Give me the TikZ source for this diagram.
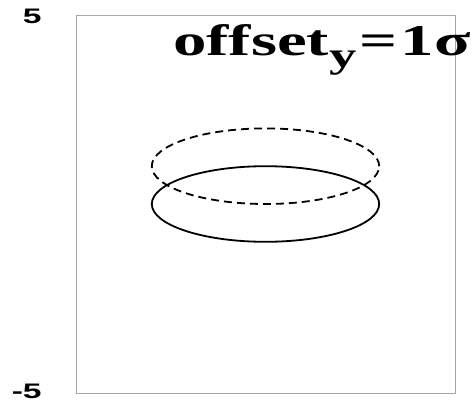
\documentclass[tikz,border=0pt]{standalone}
\usepackage{fontspec}
\setmainfont{Liberation Serif}
\setsansfont{Liberation Sans}
\usepackage{tikz}
\usepackage{xcolor}

\tikzset{
  ticklabel/.style={anchor=east,inner sep=0pt,font=\sffamily\bfseries\fontsize{21}{21}\selectfont},
  curve/.style={line width=1.8pt}
}

\begin{document}
\begin{tikzpicture}[x=37.9pt,y=37.8pt]
\useasboundingbox (-7.005,-5.238) rectangle (5.528,5.397);
\draw[gray!70,line width=0.9pt] (-5,-5) rectangle (5,5);
\draw[curve] (0,0) ellipse[x radius=3,y radius=1];
\draw[curve,dash pattern=on 8pt off 5pt] (0,1) ellipse[x radius=3,y radius=1];
\node[ticklabel] (ymax) at (-5.90,4.97) {\scalebox{1.6}[1]{5}};
\node[ticklabel] (ymin) at (-5.90,-4.95) {\scalebox{1.6}[1]{-5}};
\node[anchor=base west,inner sep=0pt,font=\bfseries\fontsize{44}{44}\selectfont] (title) at (-2.44,3.94)
  {\scalebox{1.52}[1]{offset\raisebox{-12pt}{\fontsize{36}{36}\selectfont y}\hspace{2pt}=\hspace{2pt}1σ}};
\end{tikzpicture}
\end{document}
